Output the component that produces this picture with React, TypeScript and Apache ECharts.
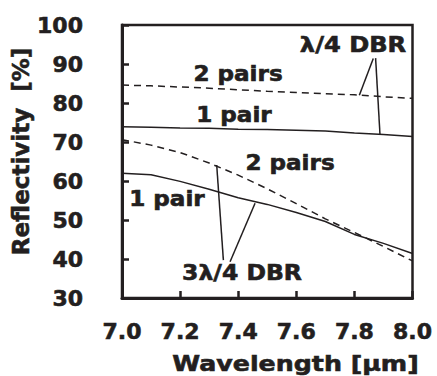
import React, { useEffect, useRef } from "react";
import * as echarts from "echarts";

// Wavelength sample points [µm]
const wavelength = [7.0, 7.1, 7.2, 7.3, 7.4, 7.5, 7.6, 7.7, 7.8, 7.9, 8.0];

// Reflectivity [%] of each DBR design
const quarterTwoPairs = [84.6, 84.4, 84.1, 83.8, 83.4, 83.0, 82.7, 82.4, 82.1, 81.6, 81.2];
const quarterOnePair = [73.9, 73.8, 73.6, 73.5, 73.3, 73.2, 73.0, 72.8, 72.3, 71.9, 71.4];
const threeQuarterTwoPairs = [70.6, 69.2, 67.3, 64.6, 61.5, 58.0, 54.2, 50.3, 46.8, 43.2, 39.5];
const threeQuarterOnePair = [62.0, 61.6, 59.9, 57.9, 55.7, 54.0, 51.9, 49.6, 46.3, 44.0, 41.4];

// Leader lines from the group labels to their curves: [wavelength, reflectivity]
const quarterLeaderDashed: [number, number][] = [[7.865, 91.4], [7.817, 82.0]];
const quarterLeaderSolid: [number, number][] = [[7.873, 91.5], [7.888, 72.0]];
const threeQuarterLeaderDashed: [number, number][] = [[7.349, 39.7], [7.326, 64.1]];
const threeQuarterLeaderSolid: [number, number][] = [[7.372, 39.3], [7.458, 54.3]];

const yTicks = { min: 30, max: 100, interval: 10 };
const xTicks = { min: 7.0, max: 8.0, interval: 0.2 };

const INK = "#231f20";
const FONT = "'DejaVu Sans', Verdana, sans-serif";

const pair = (ys: number[]) => wavelength.map((x, i) => [x, ys[i]]);

export default function App() {
  const ref = useRef<HTMLDivElement>(null);

  useEffect(() => {
    document.body.style.margin = "0";
    if (!ref.current) return;
    const chart = echarts.init(ref.current, null, { renderer: "svg" });

    const curve = (name: string, ys: number[], dashed: boolean) => ({
      name,
      type: "line",
      data: pair(ys),
      showSymbol: false,
      silent: true,
      lineStyle: { color: INK, width: 1.5, type: dashed ? [7, 5] : "solid" },
      z: 3,
    });
    const leader = (name: string, pts: [number, number][]) => ({
      name,
      type: "line",
      data: pts,
      showSymbol: false,
      silent: true,
      lineStyle: { color: INK, width: 1.5 },
      z: 4,
    });

    // Bold text with a thin outline in the same ink for a heavier face
    const label = (text: string, x: number, y: number, size = 21, sx = 1.1) => ({
      type: "text",
      x,
      y,
      scaleX: sx,
      z: 10,
      style: {
        text,
        x: 0,
        y: 0,
        fill: INK,
        stroke: INK,
        lineWidth: 0.6,
        font: `bold ${size}px ${FONT}`,
        textAlign: "center",
        textVerticalAlign: "middle",
      },
    });

    const tickLabel = {
      color: INK,
      fontFamily: FONT,
      fontWeight: "bold",
      fontSize: 22,
      textBorderColor: INK,
      textBorderWidth: 0.6,
    };

    chart.setOption({
      animation: false,
      backgroundColor: "#ffffff",
      grid: {
        left: 122,
        right: 24.5,
        top: 25,
        bottom: 78,
        show: true,
        borderColor: INK,
        borderWidth: 2.5,
      },
      xAxis: {
        type: "value",
        min: xTicks.min,
        max: xTicks.max,
        interval: xTicks.interval,
        axisLine: { lineStyle: { color: INK, width: 3 } },
        axisTick: { inside: true, length: 7, lineStyle: { color: INK, width: 2.5 } },
        splitLine: { show: false },
        axisLabel: {
          ...tickLabel,
          margin: 22,
          formatter: (v: number) => v.toFixed(1),
        },
      },
      yAxis: {
        type: "value",
        min: yTicks.min,
        max: yTicks.max,
        interval: yTicks.interval,
        axisLine: { show: true, lineStyle: { color: INK, width: 3 } },
        axisTick: { show: true, inside: true, length: 7, lineStyle: { color: INK, width: 2.5 } },
        splitLine: { show: false },
        axisLabel: {
          ...tickLabel,
          margin: 39,
        },
      },
      series: [
        curve("λ/4 DBR 2 pairs", quarterTwoPairs, true),
        curve("λ/4 DBR 1 pair", quarterOnePair, false),
        curve("3λ/4 DBR 2 pairs", threeQuarterTwoPairs, true),
        curve("3λ/4 DBR 1 pair", threeQuarterOnePair, false),
        leader("λ/4 leader a", quarterLeaderDashed),
        leader("λ/4 leader b", quarterLeaderSolid),
        leader("3λ/4 leader a", threeQuarterLeaderDashed),
        leader("3λ/4 leader b", threeQuarterLeaderSolid),
      ],
      graphic: [
        label("λ/4 DBR", 353, 45, 21, 1.15),
        label("2 pairs", 238, 74),
        label("1 pair", 234, 115),
        label("2 pairs", 290, 163),
        label("1 pair", 167, 199),
        label("3λ/4 DBR", 242, 272, 21, 1.12),
        label("Wavelength [µm]", 295.5, 364, 22, 1.15),
        {
          type: "text",
          x: 21,
          y: 151.5,
          rotation: Math.PI / 2,
          z: 10,
          style: {
            text: "Reflectivity  [%]",
            x: 0,
            y: 0,
            fill: INK,
            stroke: INK,
            lineWidth: 0.6,
            font: `bold 23px ${FONT}`,
            textAlign: "center",
            textVerticalAlign: "middle",
          },
        },
      ],
    });

    return () => chart.dispose();
  }, []);

  return <div ref={ref} style={{ width: 437, height: 376 }} />;
}
